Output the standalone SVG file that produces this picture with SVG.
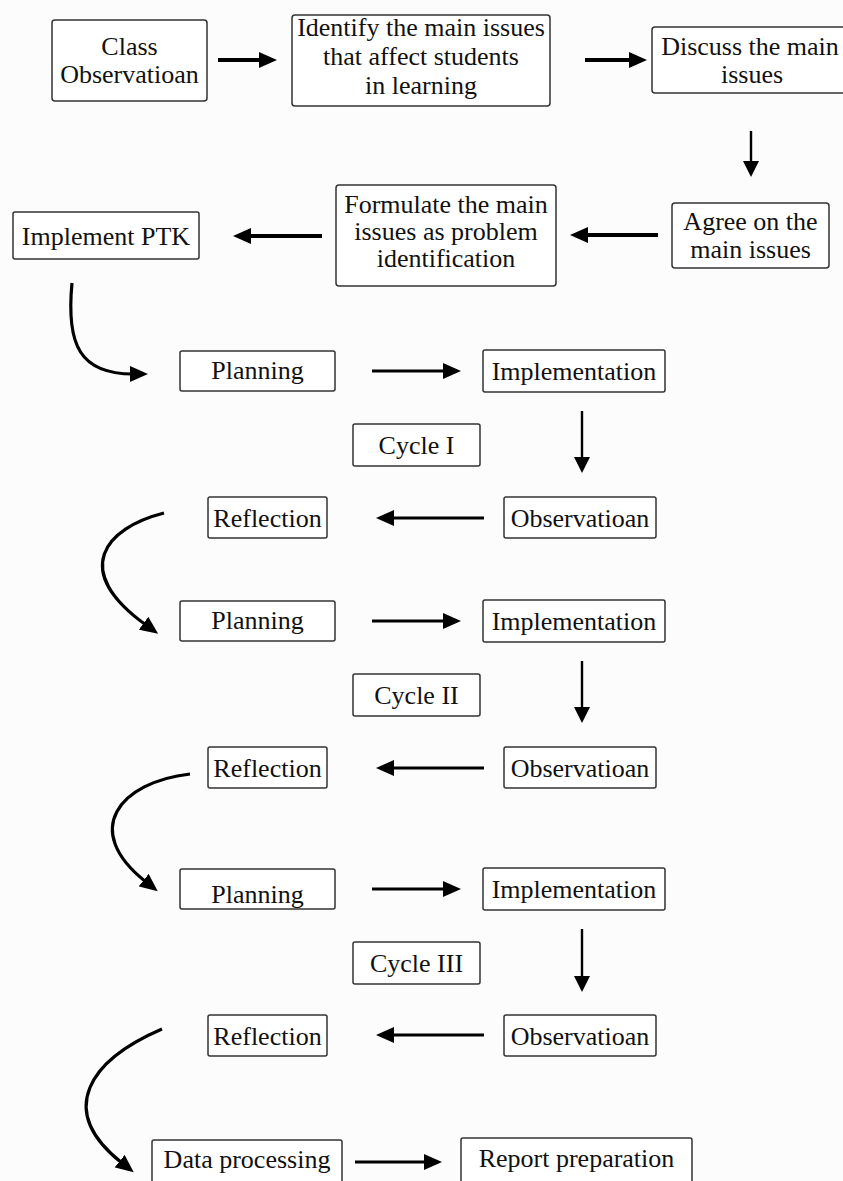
<svg xmlns="http://www.w3.org/2000/svg" width="843" height="1181" viewBox="0 0 843 1181">
<style>
.bx{fill:#fff;stroke:#333;stroke-width:1.5}
.t{font-family:"Liberation Serif","Times New Roman",serif;font-size:26px;fill:#111;text-anchor:middle}
.c{fill:none;stroke:#000;stroke-linecap:butt}
.w4{stroke-width:4}
.w3{stroke-width:3.2}
.w2{stroke-width:2.4}
</style>
<defs>
<marker id="ah" viewBox="0 0 18 16" markerWidth="18" markerHeight="16" refX="3" refY="8" markerUnits="userSpaceOnUse" orient="auto">
<path d="M0,0 L18,8 L0,16 z" fill="#000"/>
</marker>
<marker id="ahs" viewBox="0 0 16 16" markerWidth="16" markerHeight="16" refX="3" refY="8" markerUnits="userSpaceOnUse" orient="auto">
<path d="M0,0 L16,8 L0,16 z" fill="#000"/>
</marker>
</defs>
<rect x="0" y="0" width="843" height="1181" fill="#fcfcfc"/>
<g id="connectors">
<line class="c w4" x1="218" y1="60" x2="262" y2="60" marker-end="url(#ah)"/>
<line class="c w4" x1="585" y1="60" x2="632" y2="60" marker-end="url(#ah)"/>
<line class="c w2" x1="751" y1="131" x2="751" y2="164" marker-end="url(#ahs)"/>
<line class="c w4" x1="658" y1="235" x2="585" y2="235" marker-end="url(#ah)"/>
<line class="c w4" x1="322" y1="236" x2="248" y2="236" marker-end="url(#ah)"/>
<path class="c w3" d="M72,283 C66,345 80,374 133,374" marker-end="url(#ah)"/>
<line class="c w3" x1="372" y1="371" x2="446" y2="371" marker-end="url(#ah)"/>
<line class="c w2" x1="582" y1="411" x2="582" y2="460" marker-end="url(#ahs)"/>
<line class="c w3" x1="484" y1="518" x2="391" y2="518" marker-end="url(#ah)"/>
<path class="c w3" d="M164,513 C105,528 70,570 146,625" marker-end="url(#ah)"/>
<line class="c w3" x1="372" y1="621" x2="446" y2="621" marker-end="url(#ah)"/>
<line class="c w2" x1="582" y1="661" x2="582" y2="710" marker-end="url(#ahs)"/>
<line class="c w3" x1="484" y1="768" x2="391" y2="768" marker-end="url(#ah)"/>
<path class="c w3" d="M190,774 C120,782 80,830 146,882" marker-end="url(#ah)"/>
<line class="c w3" x1="372" y1="889" x2="446" y2="889" marker-end="url(#ah)"/>
<line class="c w2" x1="582" y1="929" x2="582" y2="979" marker-end="url(#ahs)"/>
<line class="c w3" x1="484" y1="1035" x2="391" y2="1035" marker-end="url(#ah)"/>
<path class="c w3" d="M162,1029 C90,1060 55,1110 122,1163" marker-end="url(#ah)"/>
<line class="c w3" x1="355" y1="1162" x2="427" y2="1162" marker-end="url(#ah)"/>
</g>
<g id="n-class"><rect class="bx" x="52" y="20" width="155" height="81" rx="3"/><text class="t" x="129.5" y="55">Class</text><text class="t" x="129.5" y="83">Observatioan</text></g>
<g id="n-identify"><rect class="bx" x="292" y="15" width="258" height="91" rx="3"/><text class="t" x="421" y="36">Identify the main issues</text><text class="t" x="421" y="65">that affect students</text><text class="t" x="421" y="94">in learning</text></g>
<g id="n-discuss"><rect class="bx" x="652" y="27" width="200" height="66" rx="3"/><text class="t" x="750" y="55">Discuss the main</text><text class="t" x="752" y="83">issues</text></g>
<g id="n-agree"><rect class="bx" x="672" y="203" width="157" height="65" rx="3"/><text class="t" x="750.5" y="230">Agree on the</text><text class="t" x="750.5" y="258">main issues</text></g>
<g id="n-formulate"><rect class="bx" x="336" y="185" width="220" height="101" rx="3"/><text class="t" x="446" y="213">Formulate the main</text><text class="t" x="446" y="240">issues as problem</text><text class="t" x="446" y="267">identification</text></g>
<g id="n-ptk"><rect class="bx" x="13" y="212" width="186" height="47" rx="2"/><text class="t" x="106" y="245">Implement PTK</text></g>
<g id="n-plan1"><rect class="bx" x="180" y="351" width="155" height="40" rx="2"/><text class="t" x="257.5" y="379">Planning</text></g>
<g id="n-impl1"><rect class="bx" x="483" y="350" width="182" height="42" rx="2"/><text class="t" x="574" y="380">Implementation</text></g>
<g id="n-cycle1"><rect class="bx" x="353" y="424" width="127" height="42" rx="2"/><text class="t" x="416.5" y="454">Cycle I</text></g>
<g id="n-refl1"><rect class="bx" x="208" y="497" width="119" height="41" rx="2"/><text class="t" x="267.5" y="527">Reflection</text></g>
<g id="n-obs1"><rect class="bx" x="504" y="497" width="152" height="41" rx="2"/><text class="t" x="580" y="527">Observatioan</text></g>
<g id="n-plan2"><rect class="bx" x="180" y="601" width="155" height="40" rx="2"/><text class="t" x="257.5" y="629">Planning</text></g>
<g id="n-impl2"><rect class="bx" x="483" y="600" width="182" height="42" rx="2"/><text class="t" x="574" y="630">Implementation</text></g>
<g id="n-cycle2"><rect class="bx" x="353" y="674" width="127" height="42" rx="2"/><text class="t" x="416.5" y="704">Cycle II</text></g>
<g id="n-refl2"><rect class="bx" x="208" y="747" width="119" height="41" rx="2"/><text class="t" x="267.5" y="777">Reflection</text></g>
<g id="n-obs2"><rect class="bx" x="504" y="747" width="152" height="41" rx="2"/><text class="t" x="580" y="777">Observatioan</text></g>
<g id="n-plan3"><rect class="bx" x="180" y="869" width="155" height="40" rx="2"/><text class="t" x="257.5" y="903">Planning</text></g>
<g id="n-impl3"><rect class="bx" x="483" y="868" width="182" height="42" rx="2"/><text class="t" x="574" y="898">Implementation</text></g>
<g id="n-cycle3"><rect class="bx" x="353" y="942" width="127" height="42" rx="2"/><text class="t" x="416.5" y="972">Cycle III</text></g>
<g id="n-refl3"><rect class="bx" x="208" y="1015" width="119" height="41" rx="2"/><text class="t" x="267.5" y="1045">Reflection</text></g>
<g id="n-obs3"><rect class="bx" x="504" y="1015" width="152" height="41" rx="2"/><text class="t" x="580" y="1045">Observatioan</text></g>
<g id="n-data"><rect class="bx" x="152" y="1140" width="190" height="50" rx="2"/><text class="t" x="247" y="1168">Data processing</text></g>
<g id="n-report"><rect class="bx" x="461" y="1138" width="231" height="52" rx="2"/><text class="t" x="576.5" y="1167">Report preparation</text></g>
</svg>
